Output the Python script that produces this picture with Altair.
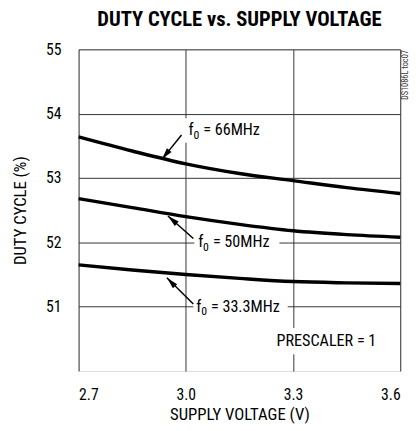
import altair as alt
import pandas as pd

FONT = "Liberation Sans Narrow, Roboto Condensed, DejaVu Sans Condensed, Arial"

voltage = [2.7, 2.85, 3.0, 3.15, 3.3, 3.45, 3.6]
duty_66 = [53.64, 53.42, 53.22, 53.07, 52.96, 52.85, 52.76]
duty_50 = [52.68, 52.54, 52.40, 52.28, 52.18, 52.12, 52.08]
duty_33 = [51.65, 51.57, 51.50, 51.44, 51.39, 51.37, 51.36]
series = ["66MHz", "50MHz", "33.3MHz"]

rows = []
for name, vals in zip(series, [duty_66, duty_50, duty_33]):
    for v, d in zip(voltage, vals):
        rows.append({"series": name, "v": v, "d": d})
df = pd.DataFrame(rows)

# annotation label positions (data coords)
lab_text = ["= 66MHz", "= 50MHz", "= 33.3MHz"]
lab_x = [3.0076, 3.0347, 3.0292]
lab_y = [53.75, 52.0, 51.0]
arrow_x = [2.988, 3.021, 3.021]
arrow_y = [53.67, 52.06, 51.04]
tip_x = [2.933, 2.950, 2.947]
tip_y = [53.29, 52.41, 51.45]
tip_angle = [218.7, 311.5, 316.0]
box_x = [2.9854, 3.0238, 3.021, 3.250]
box_x2 = [3.2286, 3.262, 3.285, 3.566]
box_y = [53.93, 52.165, 51.17, 50.67]
box_y2 = [53.55, 51.84, 50.82, 50.26]

labels = pd.DataFrame({"t": lab_text, "x": lab_x, "y": lab_y})
arrows = pd.DataFrame({"x": arrow_x, "y": arrow_y, "x2": tip_x, "y2": tip_y, "a": tip_angle})
boxes = pd.DataFrame({"x": box_x, "x2": box_x2, "y": box_y, "y2": box_y2})

xs = alt.Scale(domain=[2.7, 3.6], nice=False, zero=False)
ys = alt.Scale(domain=[50, 55], nice=False, zero=False)

X = alt.X("x:Q", scale=xs, axis=alt.Axis(values=[2.7, 3.0, 3.3, 3.6], format=".1f",
          title="SUPPLY VOLTAGE (V)", grid=True, ticks=False, domain=False,
          labelPadding=16, titlePadding=4, labelFontSize=16, titleFontSize=17,
          labelFont=FONT, titleFont=FONT, titleFontWeight="normal",
          gridColor="#333", gridWidth=1, labelColor="#000", titleColor="#000"))
Y = alt.Y("y:Q", scale=ys, axis=alt.Axis(values=[51, 52, 53, 54, 55], format="d",
          title="DUTY CYCLE (%)",
          grid=True, ticks=False, domain=False, labelPadding=18, titlePadding=16,
          labelFontSize=16, titleFontSize=17, labelFont=FONT, titleFont=FONT,
          titleFontWeight="normal", gridColor="#333", gridWidth=1,
          labelColor="#000", titleColor="#000"))

base_rect = alt.Chart(boxes).mark_rect(color="white").encode(
    x=X, x2="x2:Q", y=Y, y2="y2:Q")

lines = alt.Chart(df).mark_line(color="black", strokeWidth=3.5, interpolate="monotone").encode(
    x=alt.X("v:Q", scale=xs), y=alt.Y("d:Q", scale=ys), detail="series:N")

rules = alt.Chart(arrows).mark_rule(color="black", strokeWidth=1.5).encode(
    x=alt.X("x:Q", scale=xs), y=alt.Y("y:Q", scale=ys), x2="x2:Q", y2="y2:Q")

heads = alt.Chart(arrows).mark_point(
    shape="M0,0 L0.5,2 L-0.5,2 Z", filled=True, color="black", size=144, opacity=1
).encode(x=alt.X("x2:Q", scale=xs), y=alt.Y("y2:Q", scale=ys),
         angle=alt.Angle("a:Q", scale=None))

f_txt = alt.Chart(labels).mark_text(text="f", align="left", baseline="middle",
                                     font=FONT, fontSize=16.5, color="black").encode(
    x=alt.X("x:Q", scale=xs), y=alt.Y("y:Q", scale=ys))
sub_txt = alt.Chart(labels).mark_text(text="0", align="left", baseline="middle",
                                       font=FONT, fontSize=12, dx=5, dy=5, color="black").encode(
    x=alt.X("x:Q", scale=xs), y=alt.Y("y:Q", scale=ys))
rest_txt = alt.Chart(labels).mark_text(align="left", baseline="middle", font=FONT,
                                        fontSize=16.5, dx=15, color="black").encode(
    x=alt.X("x:Q", scale=xs), y=alt.Y("y:Q", scale=ys), text="t:N")

presc = alt.Chart(pd.DataFrame({"x": [3.2537], "y": [50.47], "t": ["PRESCALER = 1"]})).mark_text(
    align="left", baseline="middle", font=FONT, fontSize=16.5, color="black").encode(
    x=alt.X("x:Q", scale=xs), y=alt.Y("y:Q", scale=ys), text="t:N")

tag = alt.Chart(pd.DataFrame({"x": [3.6], "y": [54.6], "t": ["DS1086L toc07"]})).mark_text(
    align="center", baseline="middle", font=FONT, fontSize=8.5, angle=270, dy=5, color="#333").encode(
    x=alt.X("x:Q", scale=xs), y=alt.Y("y:Q", scale=ys), text="t:N")

chart = alt.layer(base_rect, lines, rules, heads, f_txt, sub_txt, rest_txt, presc, tag).properties(
    width=328, height=328, autosize="none",
    padding={"left": 72, "top": 38, "right": 12, "bottom": 57},
    title=alt.TitleParams("DUTY CYCLE vs. SUPPLY VOLTAGE", font=FONT, fontSize=21,
                          fontWeight="bold", anchor="middle", offset=12, color="black")
).configure_view(stroke="black", strokeWidth=3).configure(background="white")

chart.save("out.html", embed_options={"renderer": "svg", "actions": False})
